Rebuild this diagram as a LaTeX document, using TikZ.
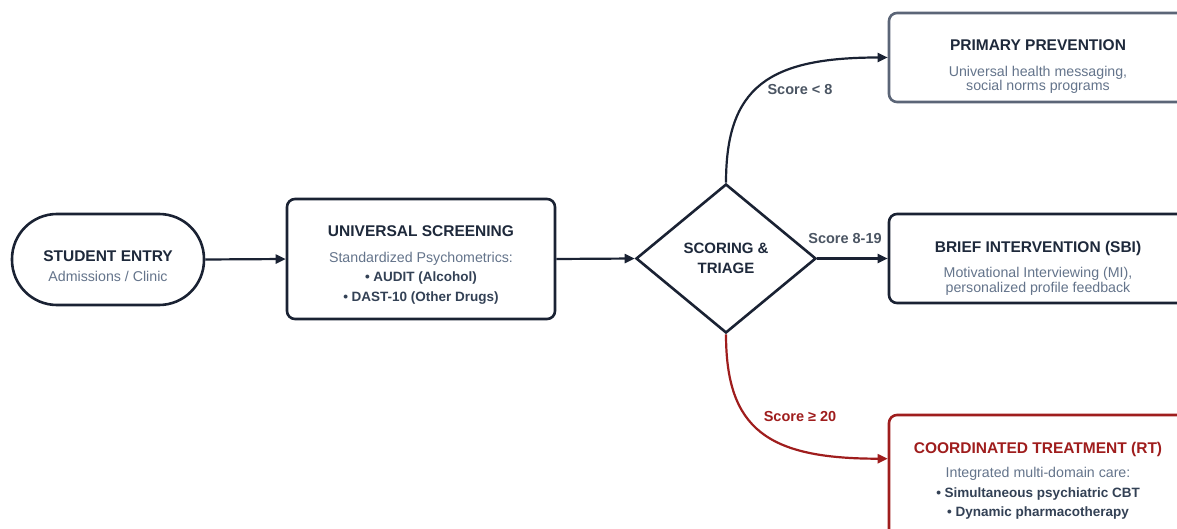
\documentclass[tikz,border=0pt]{standalone}
\usepackage{fontspec}
\setmainfont{Liberation Sans}
\usetikzlibrary{shapes.geometric,arrows.meta,calc}
\definecolor{navy}{HTML}{1E293B}
\definecolor{edge}{HTML}{1A2233}
\definecolor{mut}{HTML}{64748B}
\definecolor{lbl}{HTML}{4B5563}
\definecolor{bulc}{HTML}{334155}
\definecolor{rtred}{HTML}{9F1D1D}
\definecolor{ppgray}{HTML}{5B6577}
\begin{document}
\begin{tikzpicture}[x=1pt,y=-1pt,
 box/.style={draw=edge, line width=2.6pt, rounded corners=8pt, inner sep=0pt, minimum width=300pt},
 ttl/.style={font=\fontsize{15.5}{18}\selectfont\bfseries, text=navy, anchor=base, inner sep=0pt},
 sub/.style={font=\fontsize{14.2}{16}\selectfont, text=mut, anchor=base, inner sep=0pt},
 bul/.style={font=\fontsize{13.5}{16}\selectfont\bfseries, text=bulc, anchor=base, inner sep=0pt},
 conn/.style={draw=edge, line width=2.2pt, -{Triangle[length=10pt,width=9pt]}},
 score/.style={font=\fontsize{14.5}{16}\selectfont\bfseries, text=lbl, inner sep=0pt}]
\useasboundingbox (0,0) rectangle (1177,529);
\fill[white] (0,0) rectangle (1177,529);

% nodes
\node[box, minimum width=192pt, minimum height=91pt, rounded corners=45pt] (entry) at (108,259.5) {};
\node[ttl] (entryT) at (108,261.5) {STUDENT ENTRY};
\node[sub] (entryS) at (108,281) {Admissions / Clinic};

\node[box, minimum width=268pt, minimum height=120pt] (scr) at (421,259) {};
\node[ttl] (scrT) at (421,237) {UNIVERSAL SCREENING};
\node[sub] (scrS) at (421,262) {Standardized Psychometrics:};
\node[bul] (scrB1) at (421,281) {• AUDIT (Alcohol)};
\node[bul] (scrB2) at (421,301) {• DAST-10 (Other Drugs)};

\node[diamond, draw=edge, line width=2.6pt, minimum width=180pt, minimum height=149pt, inner sep=0pt,
      align=center, font=\fontsize{15}{20}\selectfont\bfseries, text=navy] (tri) at (726,258.5) {SCORING \&\\TRIAGE};

\node[box, draw=ppgray, minimum height=89pt] (pp) at (1039,57.5) {};
\node[ttl] (ppT) at (1038,51) {PRIMARY PREVENTION};
\node[sub] (ppS1) at (1038,77) {Universal health messaging,};
\node[sub] (ppS2) at (1038,91) {social norms programs};

\node[box, minimum height=89pt] (bi) at (1039,258.5) {};
\node[ttl] (biT) at (1038,252) {BRIEF INTERVENTION (SBI)};
\node[sub] (biS1) at (1038,277) {Motivational Interviewing (MI),};
\node[sub] (biS2) at (1038,292) {personalized profile feedback};

\node[box, draw=rtred, minimum height=128pt] (rt) at (1039,479) {};
\node[ttl, text=rtred] (rtT) at (1038,453) {COORDINATED TREATMENT (RT)};
\node[sub] (rtS) at (1038,477) {Integrated multi-domain care:};
\node[bul] (rtB1) at (1038,497) {• Simultaneous psychiatric CBT};
\node[bul] (rtB2) at (1038,516) {• Dynamic pharmacotherapy};

\coordinate (rtin) at ($(rt.north west)+(0,45)$);

% connectors
\draw[conn] (entry.east) -- (scr.west);
\draw[conn] (scr.east) -- (tri.west);
\draw[conn] (tri.east) -- (bi.west);
\draw[conn] (tri.north) .. controls +(0,-95) and +(-120,0) .. (pp.west);
\draw[conn, draw=rtred, color=rtred] (tri.south) .. controls +(0,95) and +(-120,0) .. (rtin);

% labels
\node[score] (l1) at (800,90) {Score < 8};
\node[score] (l2) at (845,239) {Score 8-19};
\node[score, text=rtred] (l3) at (800,417) {Score ≥ 20};
\end{tikzpicture}
\end{document}
